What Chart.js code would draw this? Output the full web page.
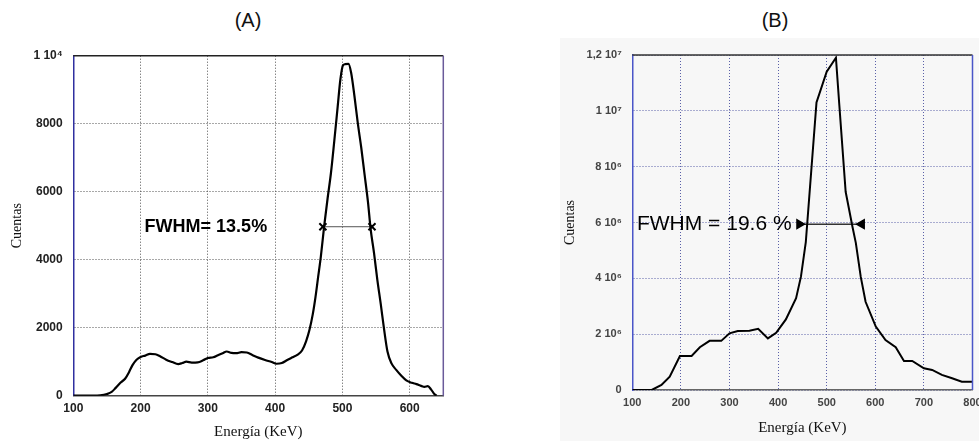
<!DOCTYPE html>
<html lang="es">
<head>
<meta charset="UTF-8">
<title>FWHM - espectros</title>
<script src="https://cdn.jsdelivr.net/npm/chart.js"></script>
<style>
    body { margin: 0; width: 979px; height: 441px; overflow: hidden; position: relative; background: #fff; font-family: "Liberation Sans", Arial, sans-serif; }
    .titulo { position: absolute; top: 9px; width: 80px; text-align: center; font-size: 20px; color: #111; }
    #fondoB { position: absolute; left: 560px; top: 38px; width: 419px; height: 403px; background: #f7f7f7; }
    canvas { position: absolute; top: 0; }
</style>
</head>
<body>
    <div class="titulo" style="left:208px">(A)</div>
    <div class="titulo" style="left:735px">(B)</div>
    <div id="fondoB"></div>
    <canvas id="graficoA" width="460" height="441" style="left:0"></canvas>
    <canvas id="graficoB" width="439" height="441" style="left:540px"></canvas>

<script>
// ---- espectro (A) ----
const energiaA = [100, 130, 140, 150, 157, 163, 170, 177, 183, 188, 194, 200, 207, 214, 222, 229, 238, 247, 256, 262,
    268, 276, 285, 293, 300, 308, 315, 322, 328, 335, 342, 350, 358, 366, 375, 385, 395, 402, 410, 418,
    426, 433, 440, 446, 451, 456, 460, 464, 468, 473, 478, 483, 488, 493, 497, 501, 504, 509, 513, 518,
    523, 528, 533, 538, 542, 547, 552, 557, 562, 567, 573, 580, 588, 595, 603, 610, 617, 622, 627, 632, 637, 640];
const cuentasA = [0, 0, 10, 50, 110, 230, 380, 500, 700, 900, 1060, 1140, 1180, 1230, 1220, 1160, 1060, 990, 930, 960,
    1000, 975, 980, 1040, 1110, 1130, 1190, 1250, 1300, 1260, 1250, 1280, 1270, 1200, 1120, 1050, 990, 940, 960, 1050,
    1130, 1200, 1330, 1600, 1930, 2400, 2900, 3500, 4100, 5000, 5800, 6550, 7500, 8500, 9300, 9720, 9750, 9760, 9500, 8800,
    8000, 7300, 6500, 5700, 4900, 4200, 3400, 2700, 1950, 1300, 950, 760, 580, 450, 380, 340, 290, 260, 280, 180, 40, 0];
const ticksXA = [100, 200, 300, 400, 500, 600];
const ticksYA = [0, 2000, 4000, 6000, 8000, 10000];
const etiquetasYA = ['0', '2000', '4000', '6000', '8000', '1 10⁴'];
const fwhmEnergiaA = [471, 544];
const fwhmCuentasA = [4970, 4970];

// ---- espectro (B) ----
const energiaB = [100, 140, 160, 177, 198, 222, 239, 259, 283, 300, 317, 341, 359, 379, 396, 416, 437, 447, 457, 479,
    500, 519, 526, 539, 553, 560, 570, 580, 601, 621, 642, 659, 676, 700, 717, 737, 758, 778, 800];
const cuentasB = [0, 0, 180000, 480000, 1220000, 1220000, 1530000, 1760000, 1760000, 2030000, 2110000, 2120000, 2190000,
    1850000, 2050000, 2530000, 3290000, 4060000, 5300000, 10300000, 11400000, 11900000, 10200000, 7100000, 5850000,
    5260000, 4060000, 3160000, 2270000, 1790000, 1530000, 1040000, 1040000, 780000, 720000, 540000, 420000, 300000, 300000];
const ticksXB = [100, 200, 300, 400, 500, 600, 700, 800];
const ticksYB = [0, 2000000, 4000000, 6000000, 8000000, 10000000, 12000000];
const etiquetasYB = ['0', '2 10⁶', '4 10⁶', '6 10⁶', '8 10⁶', '1 10⁷', '1,2 10⁷'];
const fwhmEnergiaB = [444, 572];
const fwhmCuentasB = [5940000, 5940000];

// marco superior/derecho y texto FWHM
const marcoPlugin = {
    id: 'marco',
    afterDatasetsDraw(chart, args, opts) {
        const ctx = chart.ctx;
        const a = chart.chartArea;
        ctx.save();
        ctx.lineWidth = 1.5;
        ctx.strokeStyle = opts.colorArriba;
        ctx.beginPath();
        ctx.moveTo(a.left, a.top);
        ctx.lineTo(a.right, a.top);
        ctx.stroke();
        ctx.strokeStyle = opts.colorDerecha;
        ctx.beginPath();
        ctx.moveTo(a.right, a.top);
        ctx.lineTo(a.right, a.bottom);
        ctx.stroke();

        ctx.font = opts.fuente;
        ctx.fillStyle = '#000';
        ctx.textAlign = 'left';
        ctx.textBaseline = 'middle';
        ctx.fillText(opts.texto, chart.scales.x.getPixelForValue(opts.tx), chart.scales.y.getPixelForValue(opts.ty));
        ctx.restore();
    }
};

function puntos(xs, ys) {
    return xs.map((x, i) => ({ x: x, y: ys[i] }));
}

function ejes(p) {
    return {
        x: {
            type: 'linear',
            min: p.xmin, max: p.xmax,
            afterBuildTicks: s => { s.ticks = p.ticksX.map(v => ({ value: v })); },
            afterFit: s => { s.height = p.altoX; s.paddingLeft = 0; s.paddingRight = 0; },
            grid: { color: p.colorGrid, drawTicks: false },
            border: { color: p.colorAbajo, width: 1.5, dash: [1, 2] },
            ticks: { padding: p.padX, color: p.colorTexto, font: { family: 'Liberation Sans', weight: 'bold', size: p.tamTick } },
            title: { display: true, text: 'Energía (KeV)', color: '#111', padding: { top: 0, bottom: 0 },
                font: { family: 'Liberation Serif', size: 15 } }
        },
        y: {
            min: 0, max: p.ymax,
            afterBuildTicks: s => { s.ticks = p.ticksY.map(v => ({ value: v })); },
            afterFit: s => { s.width = p.anchoY; s.paddingTop = 0; s.paddingBottom = 0; },
            grid: { color: p.colorGrid, drawTicks: false },
            border: { color: p.colorIzq, width: 1.5, dash: [1, 2] },
            ticks: {
                padding: 10.6, color: p.colorTexto,
                font: { family: 'Liberation Sans', weight: 'bold', size: p.tamTick },
                callback: v => p.etiquetasY[p.ticksY.indexOf(v)]
            },
            title: { display: true, text: 'Cuentas', color: '#111', padding: { top: p.padTituloY, bottom: 0 },
                font: { family: 'Liberation Serif', size: 14 } }
        }
    };
}

new Chart(document.getElementById('graficoA'), {
    type: 'line',
    data: {
        datasets: [{
            data: puntos(energiaA, cuentasA),
            borderColor: '#000',
            borderWidth: 2.2,
            pointRadius: 0,
            cubicInterpolationMode: 'monotone'
        }, {
            data: puntos(fwhmEnergiaA, fwhmCuentasA),
            borderColor: '#555',
            borderWidth: 1,
            pointStyle: 'crossRot',
            pointRadius: 5,
            pointBorderWidth: 2,
            pointBorderColor: '#000'
        }]
    },
    options: {
        responsive: false,
        animation: false,
        layout: { padding: { left: 0, right: 16.7, top: 55.7, bottom: 0 } },
        plugins: {
            legend: { display: false },
            tooltip: { enabled: false },
            marco: { colorArriba: '#222', colorDerecha: '#6a5a9a', fuente: 'bold 18px "Liberation Sans"', texto: 'FWHM= 13.5%', tx: 206, ty: 4960 }
        },
        scales: ejes({
            xmin: 100, xmax: 650, ymax: 10000, ticksX: ticksXA, ticksY: ticksYA, etiquetasY: etiquetasYA,
            altoX: 45.3, anchoY: 73.3, padX: 6, padTituloY: 8.6, tamTick: 12,
            colorGrid: '#505050', colorAbajo: '#444', colorIzq: '#3030a0', colorTexto: '#222'
        })
    },
    plugins: [marcoPlugin]
});

new Chart(document.getElementById('graficoB'), {
    type: 'line',
    data: {
        datasets: [{
            data: puntos(energiaB, cuentasB),
            borderColor: '#000',
            borderWidth: 2,
            pointRadius: 0,
            tension: 0
        }, {
            data: puntos(fwhmEnergiaB, fwhmCuentasB),
            borderColor: '#333',
            borderWidth: 1.5,
            pointStyle: 'triangle',
            pointRotation: [90, 270],
            pointRadius: 5,
            pointBackgroundColor: '#000',
            pointBorderColor: '#000'
        }]
    },
    options: {
        responsive: false,
        animation: false,
        layout: { padding: { left: 0, right: 5, top: 55, bottom: 3.6 } },
        plugins: {
            legend: { display: false },
            tooltip: { enabled: false },
            marco: { colorArriba: '#333', colorDerecha: '#4a55c8', fuente: '21px "Liberation Sans"', texto: 'FWHM = 19.6 %', tx: 109.6, ty: 5950000 }
        },
        scales: ejes({
            xmin: 100, xmax: 800, ymax: 12000000, ticksX: ticksXB, ticksY: ticksYB, etiquetasY: etiquetasYB,
            altoX: 47.4, anchoY: 92.3, padX: 6.4, padTituloY: 21.6, tamTick: 11,
            colorGrid: '#5a60a8', colorAbajo: '#666', colorIzq: '#4a55c8', colorTexto: '#444'
        })
    },
    plugins: [marcoPlugin]
});
</script>
</body>
</html>
